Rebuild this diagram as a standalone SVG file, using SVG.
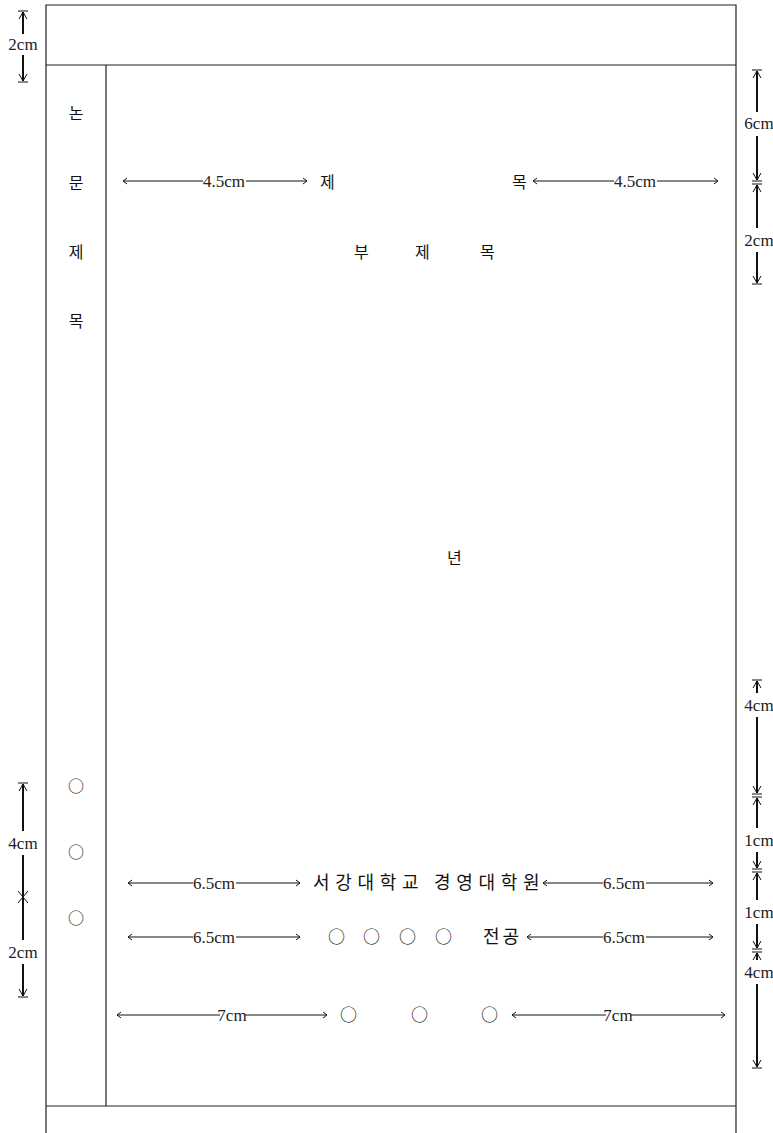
<svg xmlns="http://www.w3.org/2000/svg" width="773" height="1133" viewBox="0 0 773 1133">
<style>
.frame{fill:none;stroke:#222;stroke-width:1.2}
.dimv{fill:none;stroke:#111;stroke-width:2}
.dimh{fill:none;stroke:#111;stroke-width:1}
.ko{font-family:"Noto Sans CJK KR",sans-serif;font-size:16px;fill:#111}
.num{font-family:"Liberation Serif",serif;font-size:17px;fill:#222}
.mid{text-anchor:middle}
</style>
<rect width="773" height="1133" fill="#fff"/>
<g id="page">
<path class="frame" d="M46,1140 V5 H736 V1140 M46,65 H736 M106,65 V1106 M46,1106 H736"/>
</g>
<g id="left-column">
<text class="ko mid" x="76" y="119">논</text>
<text class="ko mid" x="76" y="189">문</text>
<text class="ko mid" x="76" y="258">제</text>
<text class="ko mid" x="76" y="327">목</text>
<text class="ko mid" x="76" y="792">○</text>
<text class="ko mid" x="76" y="858">○</text>
<text class="ko mid" x="76" y="924">○</text>
</g>
<g id="title">
<text class="ko" x="320" y="188">제</text>
<text class="ko" x="512" y="188">목</text>
<text class="ko" x="354" y="258">부</text>
<text class="ko" x="415" y="258">제</text>
<text class="ko" x="480" y="258">목</text>
<text class="ko" x="447" y="564">년</text>
</g>
<g id="bottom-text">
<text class="ko" x="313" y="889" style="font-size:18px;letter-spacing:5.7px">서강대학교 경영대학원</text>
<text class="ko" x="328" y="943" style="font-size:17px">○</text>
<text class="ko" x="363" y="943" style="font-size:17px">○</text>
<text class="ko" x="399" y="943" style="font-size:17px">○</text>
<text class="ko" x="435" y="943" style="font-size:17px">○</text>
<text class="ko" x="483" y="943" style="font-size:18px;letter-spacing:3px">전공</text>
<text class="ko" x="340" y="1021" style="font-size:17px">○</text>
<text class="ko" x="411" y="1021" style="font-size:17px">○</text>
<text class="ko" x="481" y="1021" style="font-size:17px">○</text>
</g>
<g id="connectors">
<path class="dimh" d="M123,181 H203 M246,181 H307 M127,178 L123,181 L127,184 M303,178 L307,181 L303,184"/>
<path class="dimh" d="M533,181 H614 M657,181 H718 M537,178 L533,181 L537,184 M714,178 L718,181 L714,184"/>
<path class="dimh" d="M128,883 H193 M236,883 H300 M132,880 L128,883 L132,886 M296,880 L300,883 L296,886"/>
<path class="dimh" d="M543,883 H603 M646,883 H713 M547,880 L543,883 L547,886 M709,880 L713,883 L709,886"/>
<path class="dimh" d="M128,937 H193 M236,937 H300 M132,934 L128,937 L132,940 M296,934 L300,937 L296,940"/>
<path class="dimh" d="M527,937 H603 M646,937 H713 M531,934 L527,937 L531,940 M709,934 L713,937 L709,940"/>
<path class="dimh" d="M117,1015 H220 M245,1015 H327 M121,1012 L117,1015 L121,1018 M323,1012 L327,1015 L323,1018"/>
<path class="dimh" d="M512,1015 H606 M631,1015 H725 M516,1012 L512,1015 L516,1018 M721,1012 L725,1015 L721,1018"/>
<path class="dimv" d="M23,12 V34 M23,55 V81"/>
<path class="dimh" d="M18,11 H28 M19,19 L23,12 L27,19 M19,74 L23,81 L27,74 M18,82 H28"/>
<path class="dimv" d="M757,71 V112 M757,136 V180 M757,185 V228 M757,252 V283"/>
<path class="dimh" d="M752,70 H762 M753,78 L757,71 L761,78 M753,173 L757,180 L761,173 M752,181 H762 M752,184 H762 M753,192 L757,185 L761,192 M753,276 L757,283 L761,276 M752,284 H762"/>
<path class="dimv" d="M757,681 V693 M757,717 V793 M757,798 V828 M757,852 V868 M757,873 V900 M757,924 V948 M757,953 V960 M757,984 V1067"/>
<path class="dimh" d="M752,680 H762 M753,688 L757,681 L761,688 M753,786 L757,793 L761,786 M752,794 H762 M752,797 H762 M753,805 L757,798 L761,805 M753,861 L757,868 L761,861 M752,869 H762 M752,872 H762 M753,880 L757,873 L761,880 M753,941 L757,948 L761,941 M752,949 H762 M752,952 H762 M753,960 L757,953 L761,960 M753,1060 L757,1067 L761,1060 M752,1068 H762"/>
<path class="dimv" d="M23,784 V831 M23,855 V897 M23,897 V940 M23,964 V996"/>
<path class="dimh" d="M18,783 H28 M19,791 L23,784 L27,791 M18,891 L23,897 L28,891 M18,903 L23,897 L28,903 M19,989 L23,996 L27,989 M18,997 H28"/>
</g>
<g id="labels">
<text class="num mid" x="224" y="187">4.5cm</text>
<text class="num mid" x="635" y="187">4.5cm</text>
<text class="num mid" x="214" y="889">6.5cm</text>
<text class="num mid" x="624" y="889">6.5cm</text>
<text class="num mid" x="214" y="943">6.5cm</text>
<text class="num mid" x="624" y="943">6.5cm</text>
<text class="num mid" x="232" y="1021">7cm</text>
<text class="num mid" x="618" y="1021">7cm</text>
<text class="num mid" x="23" y="50">2cm</text>
<text class="num mid" x="759" y="129">6cm</text>
<text class="num mid" x="759" y="246">2cm</text>
<text class="num mid" x="759" y="711">4cm</text>
<text class="num mid" x="759" y="846">1cm</text>
<text class="num mid" x="759" y="918">1cm</text>
<text class="num mid" x="759" y="978">4cm</text>
<text class="num mid" x="23" y="849">4cm</text>
<text class="num mid" x="23" y="958">2cm</text>
</g>
</svg>
